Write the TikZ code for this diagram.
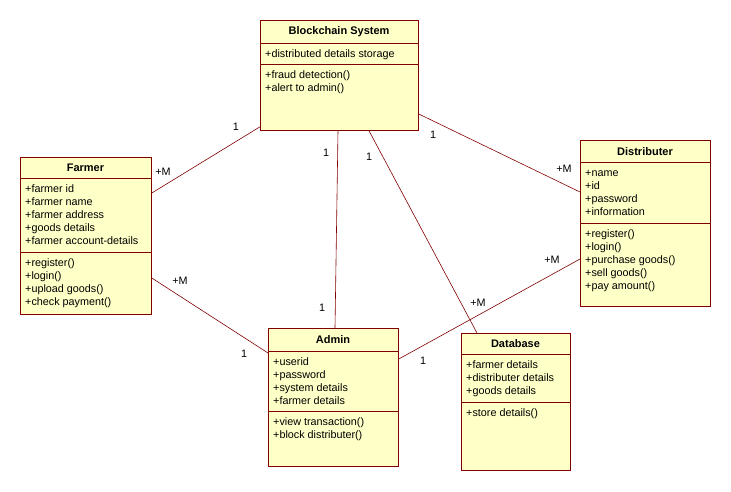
\documentclass[tikz,border=0pt]{standalone}
\usepackage{fontspec}
\setmainfont{Liberation Sans}
\usetikzlibrary{calc, positioning}
\definecolor{boxfill}{RGB}{255,255,200}
\definecolor{boxline}{RGB}{128,0,0}
\tikzset{
  classbox/.style={rectangle,draw=boxline,fill=boxfill,line width=0.8pt,inner sep=0pt,anchor=north west},
  classname/.style={font=\fontsize{11}{13}\selectfont\bfseries},
  members/.style={align=left,anchor=north west,inner sep=0pt},
  sepline/.style={draw=boxline,line width=0.8pt},
  assoc/.style={draw=boxline,line width=0.6pt},
  mult/.style={inner sep=0pt}
}
\begin{document}
\begin{tikzpicture}[x=1pt,y=-1pt,font=\fontsize{10.8}{13}\selectfont]
    \useasboundingbox (0,0) rectangle (731,491);
    % Blockchain System
    \node[classbox,minimum width=158pt,minimum height=110pt] (bc) at (260,20) {};
    \node[classname] (bcname) at (339,32) {Blockchain System};
    \draw[sepline] (bc.west |- 0,43) -- (bc.east |- 0,43);
    \draw[sepline] (bc.west |- 0,64) -- (bc.east |- 0,64);
    \node[members] (bcattr) at (265,48.3) {\strut+distributed details storage};
    \node[members] (bcops) at (265,69.3) {\strut+fraud detection()\\+alert to admin()};
    % Farmer
    \node[classbox,minimum width=131pt,minimum height=157pt] (fa) at (20,157) {};
    \node[classname] (faname) at (85.5,168) {Farmer};
    \draw[sepline] (fa.west |- 0,178) -- (fa.east |- 0,178);
    \draw[sepline] (fa.west |- 0,252) -- (fa.east |- 0,252);
    \node[members] (faattr) at (25,183.3) {\strut+farmer id\\+farmer name\\+farmer address\\+goods details\\+farmer account-details};
    \node[members] (faops) at (25,257.3) {\strut+register()\\+login()\\+upload goods()\\+check payment()};
    % Distributer
    \node[classbox,minimum width=130pt,minimum height=166pt] (di) at (580,140) {};
    \node[classname] (diname) at (645,151.5) {Distributer};
    \draw[sepline] (di.west |- 0,162) -- (di.east |- 0,162);
    \draw[sepline] (di.west |- 0,223) -- (di.east |- 0,223);
    \node[members] (diattr) at (585,167.3) {\strut+name\\+id\\+password\\+information};
    \node[members] (diops) at (585,228.3) {\strut+register()\\+login()\\+purchase goods()\\+sell goods()\\+pay amount()};
    % Admin
    \node[classbox,minimum width=130pt,minimum height=138pt] (ad) at (268,328) {};
    \node[classname] (adname) at (333,340) {Admin};
    \draw[sepline] (ad.west |- 0,351) -- (ad.east |- 0,351);
    \draw[sepline] (ad.west |- 0,411) -- (ad.east |- 0,411);
    \node[members] (adattr) at (273,356.3) {\strut+userid\\+password\\+system details\\+farmer details};
    \node[members] (adops) at (273,416.3) {\strut+view transaction()\\+block distributer()};
    % Database
    \node[classbox,minimum width=109pt,minimum height=137pt] (db) at (461,333) {};
    \node[classname] (dbname) at (515.5,344) {Database};
    \draw[sepline] (db.west |- 0,354) -- (db.east |- 0,354);
    \draw[sepline] (db.west |- 0,402) -- (db.east |- 0,402);
    \node[members] (dbattr) at (466,359.3) {\strut+farmer details\\+distributer details\\+goods details};
    \node[members] (dbops) at (466,407.3) {\strut+store details()};
    % associations
    \draw[assoc] ($(bc.south west)+(0,-4)$) -- ($(fa.north east)+(0,36)$);
    \draw[assoc] ($(bc.north east)+(0,94)$) -- ($(di.north west)+(0,52)$);
    \draw[assoc] ($(bc.south west)+(78,0)$) -- ($(ad.north west)+(67,0)$);
    \draw[assoc] ($(bc.south west)+(109,0)$) -- ($(db.north west)+(16,0)$);
    \draw[assoc] ($(fa.north east)+(0,121)$) -- ($(ad.north west)+(0,25)$);
    \draw[assoc] ($(ad.north east)+(0,31)$) -- ($(di.north west)+(0,119)$);
    % multiplicities
    \node[mult] (m1) at (236,127) {1};
    \node[mult] (m2) at (163,172) {+M};
    \node[mult] (m3) at (433,135) {1};
    \node[mult] (m4) at (564,169) {+M};
    \node[mult] (m5) at (326,153) {1};
    \node[mult] (m6) at (322,308) {1};
    \node[mult] (m7) at (369,157) {1};
    \node[mult] (m8) at (478,303) {+M};
    \node[mult] (m9) at (180,281) {+M};
    \node[mult] (m10) at (244,354) {1};
    \node[mult] (m11) at (423,361) {1};
    \node[mult] (m12) at (552,260) {+M};
\end{tikzpicture}
\end{document}
